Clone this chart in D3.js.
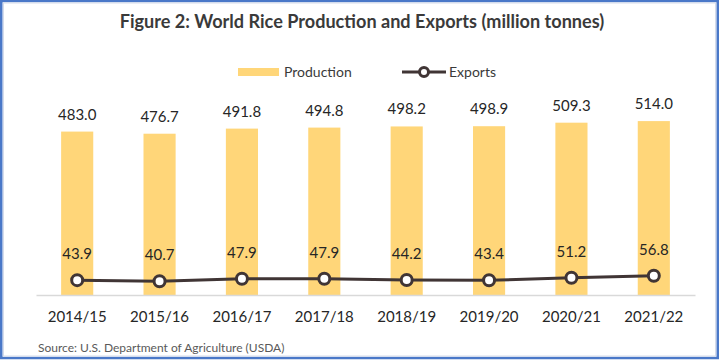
<!DOCTYPE html>
<html>
<head>
<meta charset="utf-8">
<script src="https://cdn.jsdelivr.net/npm/d3@7"></script>
<style>
  html, body { margin: 0; padding: 0; background: #fff; }
  svg { display: block; font-family: Lato, "Open Sans", sans-serif; }
</style>
</head>
<body>
<div id="chart"></div>
<script>
//Data
const years = ['2014/15', '2015/16', '2016/17', '2017/18', '2018/19', '2019/20', '2020/21', '2021/22'];
const production = [483.0, 476.7, 491.8, 494.8, 498.2, 498.9, 509.3, 514.0];
const exportsVal = [43.9, 40.7, 47.9, 47.9, 44.2, 43.4, 51.2, 56.8];
const yDomain = [0, 600];

const W = 721, H = 361;
const barColor = '#FFD679';
const lineColor = '#403535';
const textColor = '#262626';

const svg = d3.select('#chart').append('svg').attr('width', W).attr('height', H);

// Frame
svg.append('rect').attr('x', 1.25).attr('y', 1).attr('width', 716.5).attr('height', 357)
  .attr('fill', '#fff').attr('stroke', '#4a78c8').attr('stroke-width', 2.5);
svg.append('rect').attr('x', 3.5).attr('y', 3).attr('width', 712).attr('height', 353)
  .attr('fill', 'none').attr('stroke', '#d6dcea').attr('stroke-width', 1);

// Title
svg.append('text').attr('x', 362).attr('y', 28).attr('text-anchor', 'middle')
  .attr('font-size', 18.1).attr('font-weight', 700).attr('fill', '#3a3a3a')
  .text('Figure 2: World Rice Production and Exports (million tonnes)');

// Scales
const x = d3.scaleBand().domain(years).range([36, 695]).paddingInner(0.61).paddingOuter(0.305);
const y = d3.scaleLinear().domain(yDomain).range([295, 92]);

// Bars
svg.append('g').selectAll('rect').data(production).join('rect')
  .attr('x', (d, i) => x(years[i]))
  .attr('y', d => y(d))
  .attr('width', x.bandwidth())
  .attr('height', d => y(0) - y(d))
  .attr('fill', barColor);

// Axis
const xAxis = svg.append('g').attr('transform', `translate(0,${y(0)})`)
  .call(d3.axisBottom(x).tickSize(0).tickPadding(16));
xAxis.select('.domain').attr('stroke', '#d9d9d9').attr('stroke-width', 1.5);
xAxis.selectAll('text').attr('font-size', 15).attr('fill', textColor)
  .attr('font-family', 'Lato, sans-serif');

// Production labels
svg.append('g').selectAll('text').data(production).join('text')
  .attr('x', (d, i) => x(years[i]) + x.bandwidth() / 2)
  .attr('y', d => y(d) - 12)
  .attr('text-anchor', 'middle')
  .attr('font-size', 15).attr('fill', textColor)
  .text(d => d.toFixed(1));

// Exports line
const cx = i => x(years[i]) + x.bandwidth() / 2;
const line = d3.line().x((d, i) => cx(i)).y(d => y(d));
svg.append('path').datum(exportsVal).attr('d', line)
  .attr('fill', 'none').attr('stroke', lineColor).attr('stroke-width', 3);
svg.append('g').selectAll('circle').data(exportsVal).join('circle')
  .attr('cx', (d, i) => cx(i)).attr('cy', d => y(d)).attr('r', 5.5)
  .attr('fill', '#fff').attr('stroke', lineColor).attr('stroke-width', 3);
svg.append('g').selectAll('text').data(exportsVal).join('text')
  .attr('x', (d, i) => cx(i))
  .attr('y', d => y(d) - 21)
  .attr('text-anchor', 'middle')
  .attr('font-size', 15).attr('fill', textColor)
  .text(d => d.toFixed(1));

// Legend
const legend = svg.append('g');
legend.append('rect').attr('x', 238).attr('y', 68).attr('width', 41).attr('height', 8).attr('fill', barColor);
legend.append('text').attr('x', 284).attr('y', 77).attr('font-size', 14).attr('fill', '#3a3a3a').text('Production');
legend.append('line').attr('x1', 402).attr('x2', 446).attr('y1', 72).attr('y2', 72)
  .attr('stroke', lineColor).attr('stroke-width', 3);
legend.append('circle').attr('cx', 424).attr('cy', 72).attr('r', 4.5)
  .attr('fill', '#fff').attr('stroke', lineColor).attr('stroke-width', 3);
legend.append('text').attr('x', 449).attr('y', 77).attr('font-size', 14).attr('fill', '#3a3a3a').text('Exports');

// Source
svg.append('text').attr('x', 38).attr('y', 352).attr('font-size', 12).attr('fill', '#595959')
  .text('Source: U.S. Department of Agriculture (USDA)');
</script>
</body>
</html>
